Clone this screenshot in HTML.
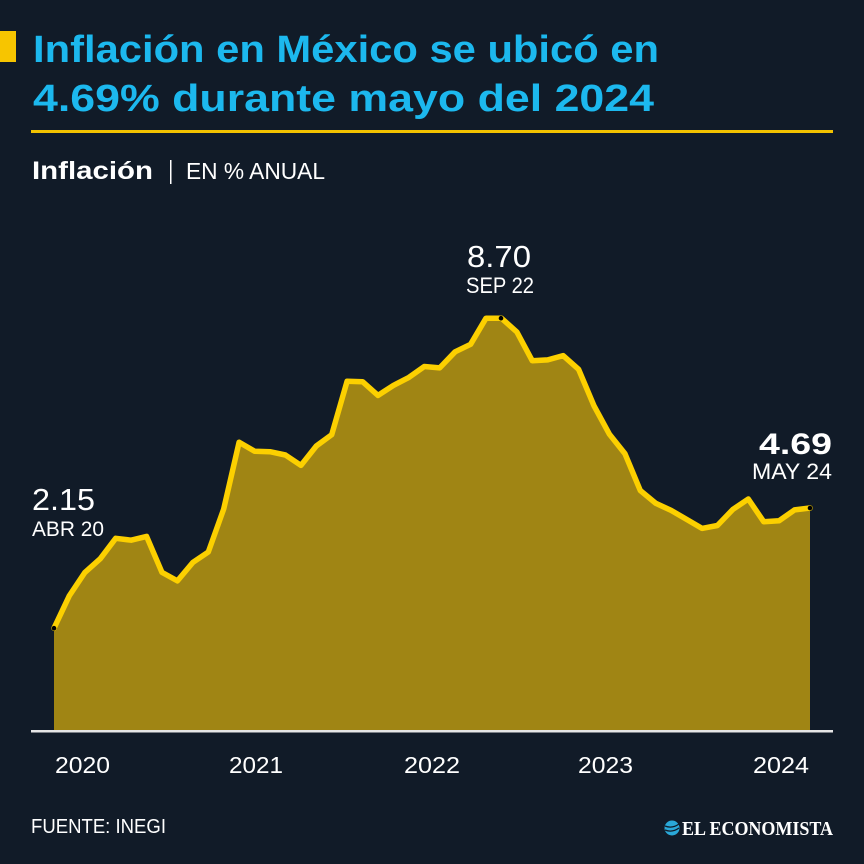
<!DOCTYPE html>
<html><head><meta charset="utf-8"><style>
html,body{margin:0;padding:0;background:#111b28;}
svg{display:block;}
text{font-family:"Liberation Sans",sans-serif;}
</style></head><body>
<svg width="864" height="864" viewBox="0 0 864 864" xmlns="http://www.w3.org/2000/svg">
<rect width="864" height="864" fill="#111b28"/>
<rect x="0" y="31" width="16" height="31" fill="#f7c500"/>
<text x="33" y="62" font-size="38" font-weight="bold" fill="#1cb8ee" textLength="626" lengthAdjust="spacingAndGlyphs">Inflación en México se ubicó en</text>
<text x="33" y="111" font-size="38" font-weight="bold" fill="#1cb8ee" textLength="621" lengthAdjust="spacingAndGlyphs">4.69% durante mayo del 2024</text>
<rect x="31" y="130" width="802" height="3" fill="#f2c200"/>
<text x="32" y="179" font-size="25" font-weight="bold" fill="#ffffff" textLength="121" lengthAdjust="spacingAndGlyphs">Inflación</text>
<rect x="170" y="160" width="1.5" height="24" fill="#ffffff"/>
<text x="186" y="179" font-size="23" fill="#ffffff" textLength="139" lengthAdjust="spacingAndGlyphs">EN % ANUAL</text>

<polygon fill="#a08514" points="54,730 54,628.2 69.4,595.6 84.9,572.4 100.3,558.7 115.7,538.3 131.1,540.2 146.6,536.4 162.0,572.4 177.4,580.9 192.9,562.4 208.3,552.0 223.7,509.0 239.1,442.2 254.6,451.2 270.0,451.7 285.4,455.0 300.9,465.4 316.3,446.0 331.7,434.7 347.1,381.2 362.6,381.7 378.0,395.4 393.4,385.4 408.9,377.4 424.3,366.5 439.7,367.9 455.1,351.8 470.6,344.3 486.0,318.2 501.4,318.2 516.9,332.0 532.3,360.8 547.7,359.9 563.1,355.6 578.6,369.3 594.0,405.8 609.4,434.2 624.9,453.6 640.3,490.5 655.7,503.3 671.1,510.4 686.6,519.4 702.0,528.4 717.4,525.5 732.9,509.4 748.3,499.0 763.7,521.7 779.1,520.8 794.6,509.9 810.0,508.0 810,730"/>
<polyline fill="none" stroke="#fcd000" stroke-width="5.5" stroke-linejoin="round" stroke-linecap="round" points="54,628.2 69.4,595.6 84.9,572.4 100.3,558.7 115.7,538.3 131.1,540.2 146.6,536.4 162.0,572.4 177.4,580.9 192.9,562.4 208.3,552.0 223.7,509.0 239.1,442.2 254.6,451.2 270.0,451.7 285.4,455.0 300.9,465.4 316.3,446.0 331.7,434.7 347.1,381.2 362.6,381.7 378.0,395.4 393.4,385.4 408.9,377.4 424.3,366.5 439.7,367.9 455.1,351.8 470.6,344.3 486.0,318.2 501.4,318.2 516.9,332.0 532.3,360.8 547.7,359.9 563.1,355.6 578.6,369.3 594.0,405.8 609.4,434.2 624.9,453.6 640.3,490.5 655.7,503.3 671.1,510.4 686.6,519.4 702.0,528.4 717.4,525.5 732.9,509.4 748.3,499.0 763.7,521.7 779.1,520.8 794.6,509.9 810.0,508.0"/>
<circle cx="54" cy="628.2" r="2.3" fill="#000"/>
<circle cx="501" cy="318.2" r="2.3" fill="#000"/>
<circle cx="810" cy="508" r="2.3" fill="#000"/>
<rect x="31" y="730" width="802" height="2.5" fill="#e6e6e6"/>

<text x="32" y="510" font-size="31" fill="#ffffff" textLength="63" lengthAdjust="spacingAndGlyphs">2.15</text>
<text x="32" y="536" font-size="21" fill="#ffffff" textLength="72" lengthAdjust="spacingAndGlyphs">ABR 20</text>
<text x="467" y="267" font-size="31" fill="#ffffff" textLength="64" lengthAdjust="spacingAndGlyphs">8.70</text>
<text x="466" y="293" font-size="22" fill="#ffffff" textLength="68" lengthAdjust="spacingAndGlyphs">SEP 22</text>
<text x="759" y="454" font-size="30" font-weight="bold" fill="#ffffff" textLength="73" lengthAdjust="spacingAndGlyphs">4.69</text>
<text x="752" y="479" font-size="22" fill="#ffffff" textLength="80" lengthAdjust="spacingAndGlyphs">MAY 24</text>

<text x="55" y="773" font-size="23" fill="#ffffff" textLength="55" lengthAdjust="spacingAndGlyphs">2020</text>
<text x="229" y="773" font-size="23" fill="#ffffff" textLength="54" lengthAdjust="spacingAndGlyphs">2021</text>
<text x="404" y="773" font-size="23" fill="#ffffff" textLength="56" lengthAdjust="spacingAndGlyphs">2022</text>
<text x="578" y="773" font-size="23" fill="#ffffff" textLength="55" lengthAdjust="spacingAndGlyphs">2023</text>
<text x="753" y="773" font-size="23" fill="#ffffff" textLength="56" lengthAdjust="spacingAndGlyphs">2024</text>

<text x="31" y="833" font-size="20" fill="#ffffff" textLength="135" lengthAdjust="spacingAndGlyphs">FUENTE: INEGI</text>
<circle cx="672" cy="828" r="7.5" fill="#2aa8d8"/>
<path d="M665,826 q7,3 14,-2 M665,830 q7,3 14,-2" stroke="#111b28" stroke-width="1.3" fill="none"/>
<text x="682" y="835" font-size="20" font-weight="bold" fill="#ffffff" style="font-family:'Liberation Serif',serif" textLength="151" lengthAdjust="spacingAndGlyphs">EL ECONOMISTA</text>
</svg>
</body></html>
